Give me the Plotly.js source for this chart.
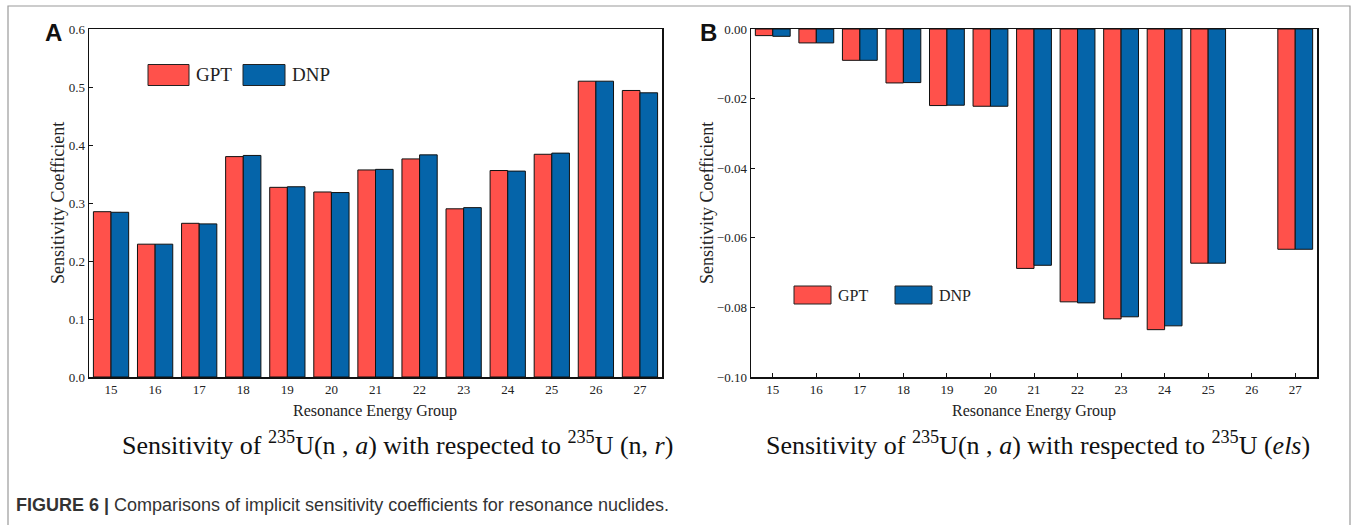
<!DOCTYPE html>
<html>
<head>
<meta charset="utf-8">
<script src="https://cdn.plot.ly/plotly-3.0.1.min.js"></script>
<style>
html,body{margin:0;padding:0;background:#fff;}
#chart{width:1356px;height:525px;}
</style>
</head>
<body>
<div id="chart"></div>
<script>
// ---- data ----
const groups = ['15','16','17','18','19','20','21','22','23','24','25','26','27'];
const seriesNames = ['GPT', 'DNP'];
const seriesColors = ['#FF514B', '#0564A9'];
// Panel A: Sensitivity of 235U(n,a) w.r.t. 235U (n,r)
const gptA = [0.285, 0.229, 0.265, 0.380, 0.327, 0.319, 0.357, 0.376, 0.290, 0.356, 0.384, 0.510, 0.494];
const dnpA = [0.284, 0.229, 0.264, 0.382, 0.328, 0.318, 0.358, 0.383, 0.292, 0.355, 0.386, 0.510, 0.490];
// Panel B: Sensitivity of 235U(n,a) w.r.t. 235U (els)
const gptB = [-0.0019, -0.0040, -0.0090, -0.0155, -0.0220, -0.0222, -0.0688, -0.0784, -0.0833, -0.0864, -0.0673, null, -0.0633];
const dnpB = [-0.0021, -0.0040, -0.0090, -0.0154, -0.0219, -0.0222, -0.0679, -0.0787, -0.0827, -0.0853, -0.0673, null, -0.0633];
const yTickA = [0, 0.1, 0.2, 0.3, 0.4, 0.5, 0.6];
const yTickB = [-0.10, -0.08, -0.06, -0.04, -0.02, 0.00];
const xTitle = 'Resonance Energy Group';
const yTitle = 'Sensitivity Coefficient';
const captionA = 'Sensitivity of <sup>235</sup>U(n , <i>a</i>) with respected to <sup>235</sup>U (n, <i>r</i>)';
const captionB = 'Sensitivity of <sup>235</sup>U(n , <i>a</i>) with respected to <sup>235</sup>U (<i>els</i>)';
const figCaptionBold = 'FIGURE 6 |';
const figCaption = 'Comparisons of implicit sensitivity coefficients for resonance nuclides.';

// ---- helpers ----
const W = 1356, H = 525;
const px = v => v / W;
const py = v => 1 - v / H;
const serif = 'Liberation Serif, Times New Roman, serif';
const sans = 'Liberation Sans, Arial, sans-serif';

function bar(y, i, xa, ya) {
  return {
    type: 'bar', x: groups, y: y, name: seriesNames[i], xaxis: xa, yaxis: ya,
    marker: {color: seriesColors[i], line: {color: '#111', width: 1}},
    showlegend: false, hoverinfo: 'x+y+name'
  };
}

const traces = [
  bar(gptA, 0, 'x', 'y'), bar(dnpA, 1, 'x', 'y'),
  bar(gptB, 0, 'x2', 'y2'), bar(dnpB, 1, 'x2', 'y2')
];

const axisCommon = {
  showline: true, mirror: true, linecolor: '#111', linewidth: 1.5,
  showgrid: false, zeroline: false,
  tickfont: {family: serif, size: 13, color: '#222'},
  fixedrange: true
};

const domY = [py(377), py(29)];
const layout = {
  width: W, height: H,
  margin: {l: 0, r: 0, t: 0, b: 0},
  paper_bgcolor: '#fff', plot_bgcolor: '#fff',
  barmode: 'group', bargap: 0.2, bargroupgap: 0,
  xaxis: Object.assign({}, axisCommon, {domain: [px(89), px(662)], anchor: 'y', type: 'category', ticks: '', ticklen: 0}),
  yaxis: Object.assign({}, axisCommon, {domain: domY, anchor: 'x', range: [0, 0.6], tickvals: yTickA, tickformat: '.1f', ticks: 'inside', ticklen: 4, tickcolor: '#111'}),
  xaxis2: Object.assign({}, axisCommon, {domain: [px(751), px(1317)], anchor: 'y2', type: 'category', ticks: 'inside', ticklen: 4, tickcolor: '#111'}),
  yaxis2: Object.assign({}, axisCommon, {domain: domY, anchor: 'x2', range: [-0.1, 0], tickvals: yTickB, tickformat: '.2f', ticks: 'inside', ticklen: 4, tickcolor: '#111'}),
  shapes: [],
  annotations: []
};

// outer frame
layout.shapes.push({type: 'rect', xref: 'paper', yref: 'paper', x0: px(8), x1: px(1350), y0: py(540), y1: py(6), line: {color: '#9a9a9a', width: 1.2}, fillcolor: 'rgba(0,0,0,0)', layer: 'below'});

// legends (patch + label) from series names/colors
function addLegend(items) {
  items.forEach((it, i) => {
    layout.shapes.push({type: 'rect', xref: 'paper', yref: 'paper', x0: px(it.x), x1: px(it.x + it.w), y0: py(it.y + it.h / 2), y1: py(it.y - it.h / 2), fillcolor: seriesColors[i], line: {color: '#222', width: 1}});
    layout.annotations.push({xref: 'paper', yref: 'paper', x: px(it.x + it.w + 5), y: py(it.y), xanchor: 'left', yanchor: 'middle', showarrow: false, text: seriesNames[i], font: {family: serif, size: it.fs, color: '#222'}});
  });
}
addLegend([{x: 148, y: 75, w: 41, h: 21, fs: 19}, {x: 243, y: 75, w: 42, h: 21, fs: 19}]);
addLegend([{x: 794, y: 295, w: 37, h: 18, fs: 16}, {x: 895, y: 295, w: 37, h: 18, fs: 16}]);

function ann(x, y, text, font, extra) {
  layout.annotations.push(Object.assign({xref: 'paper', yref: 'paper', x: px(x), y: py(y), text: text, showarrow: false, font: font, xanchor: 'center', yanchor: 'middle'}, extra || {}));
}
// panel letters
ann(53, 33, '<b>A</b>', {family: sans, size: 24, color: '#111'});
ann(708, 33, '<b>B</b>', {family: sans, size: 24, color: '#111'});
// axis titles
ann(375.5, 411, xTitle, {family: serif, size: 16, color: '#222'});
ann(1034, 411, xTitle, {family: serif, size: 16, color: '#222'});
ann(58, 203, yTitle, {family: serif, size: 18, color: '#222'}, {textangle: -90});
ann(707, 203, yTitle, {family: serif, size: 18, color: '#222'}, {textangle: -90});
// captions
ann(397, 443, captionA, {family: serif, size: 26, color: '#111'});
ann(1038, 443, captionB, {family: serif, size: 26, color: '#111'});
ann(14, 505, '<b>' + figCaptionBold + '</b> ' + figCaption, {family: sans, size: 18, color: '#333'}, {xanchor: 'left'});

Plotly.newPlot('chart', traces, layout, {displayModeBar: false, staticPlot: true});
</script>
</body>
</html>
